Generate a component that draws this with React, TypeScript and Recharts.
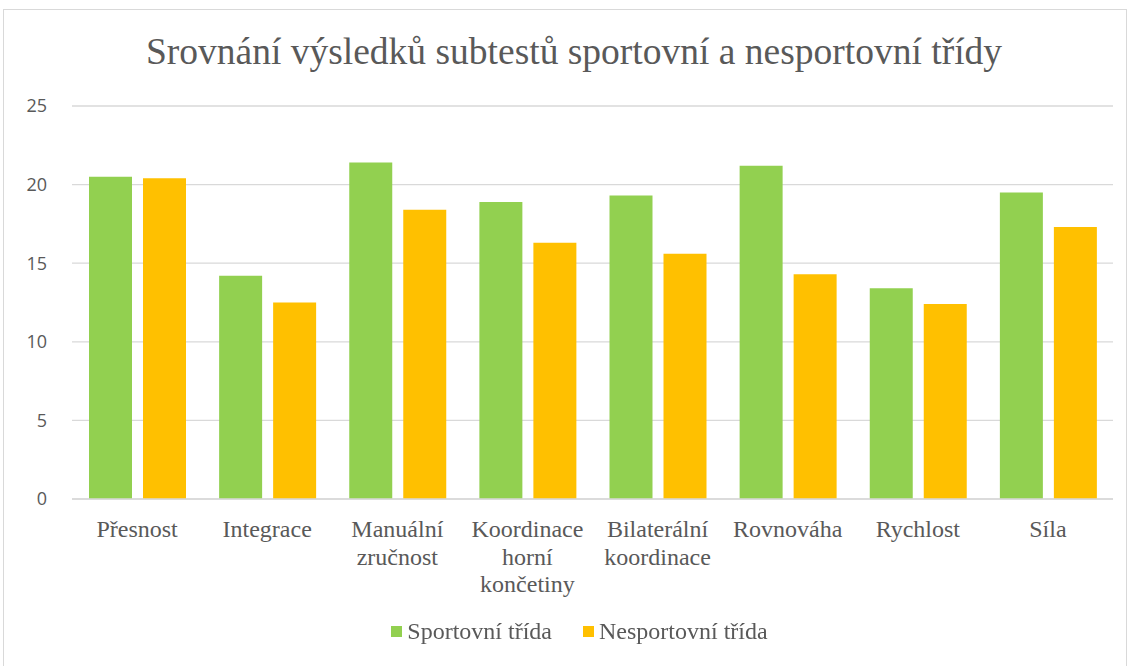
import { Bar, BarChart, CartesianGrid, XAxis, YAxis } from "recharts";

const categories = [
  "Přesnost",
  "Integrace",
  "Manuální zručnost",
  "Koordinace horní končetiny",
  "Bilaterální koordinace",
  "Rovnováha",
  "Rychlost",
  "Síla",
];
const sportovni = [20.5, 14.2, 21.4, 18.9, 19.3, 21.2, 13.4, 19.5];
const nesportovni = [20.4, 12.5, 18.4, 16.3, 15.6, 14.3, 12.4, 17.3];
const yTicks = [0, 5, 10, 15, 20, 25];

const SERIES = [
  { key: "sportovni", label: "Sportovní třída", color: "#92D050" },
  { key: "nesportovni", label: "Nesportovní třída", color: "#FFC000" },
];

const rows = categories.map((name, i) => ({
  name,
  sportovni: sportovni[i],
  nesportovni: nesportovni[i],
}));

const SERIF = "Liberation Serif";
const SANS = "Open Sans";

// Excel wraps long category names one word per line
function CategoryTick({ x, y, payload }: any) {
  const text: string = payload.value;
  const lines = text.length > 12 ? text.split(" ") : [text];
  return (
    <text x={x} y={y} textAnchor="middle" fill="#595959" style={{ fontFamily: SERIF, fontSize: 24 }}>
      {lines.map((line, i) => (
        <tspan key={i} x={x} dy={i === 0 ? 30 : 27.5}>
          {line}
        </tspan>
      ))}
    </text>
  );
}

export default function App() {
  return (
    <div style={{ position: "fixed", left: 0, top: 0, width: 1131, height: 666, background: "#fff" }}>
      <div
        style={{
          position: "absolute",
          left: 3,
          top: 9,
          width: 1124,
          height: 660,
          border: "1px solid #D9D9D9",
          boxSizing: "border-box",
        }}
      />
      <div
        style={{
          position: "absolute",
          left: 0,
          top: 30,
          width: 1148,
          textAlign: "center",
          fontFamily: SERIF,
          fontSize: 37.5,
          color: "#595959",
          lineHeight: "44px",
        }}
      >
        Srovnání výsledků subtestů sportovní a nesportovní třídy
      </div>
      <div style={{ position: "absolute", left: 0, top: 0 }}>
        <BarChart
          width={1131}
          height={666}
          data={rows}
          margin={{ top: 106, right: 18, left: 0, bottom: 77 }}
          barSize={43}
          barGap={11}
        >
          <CartesianGrid vertical={false} stroke="#D9D9D9" strokeWidth={1.3} />
          <XAxis
            dataKey="name"
            tick={<CategoryTick />}
            axisLine={{ stroke: "#D9D9D9", strokeWidth: 1.3 }}
            tickLine={false}
            interval={0}
            height={90}
          />
          <YAxis
            domain={[0, 25]}
            ticks={yTicks}
            width={72}
            axisLine={false}
            tickLine={false}
            tickSize={0}
            tickMargin={25}
            tick={{ fontSize: 18, fill: "#595959", fontFamily: SANS }}
          />
          {SERIES.map((s) => (
            <Bar key={s.key} dataKey={s.key} fill={s.color} isAnimationActive={false} />
          ))}
        </BarChart>
      </div>
      <div
        style={{
          position: "absolute",
          left: 0,
          top: 618,
          width: 1159,
          display: "flex",
          justifyContent: "center",
          gap: 31,
          fontFamily: SERIF,
          fontSize: 24,
          color: "#595959",
        }}
      >
        {SERIES.map((s) => (
          <div key={s.key} style={{ display: "flex", alignItems: "center", gap: 5 }}>
            <span style={{ display: "inline-block", width: 11, height: 11, background: s.color }} />
            <span>{s.label}</span>
          </div>
        ))}
      </div>
    </div>
  );
}
